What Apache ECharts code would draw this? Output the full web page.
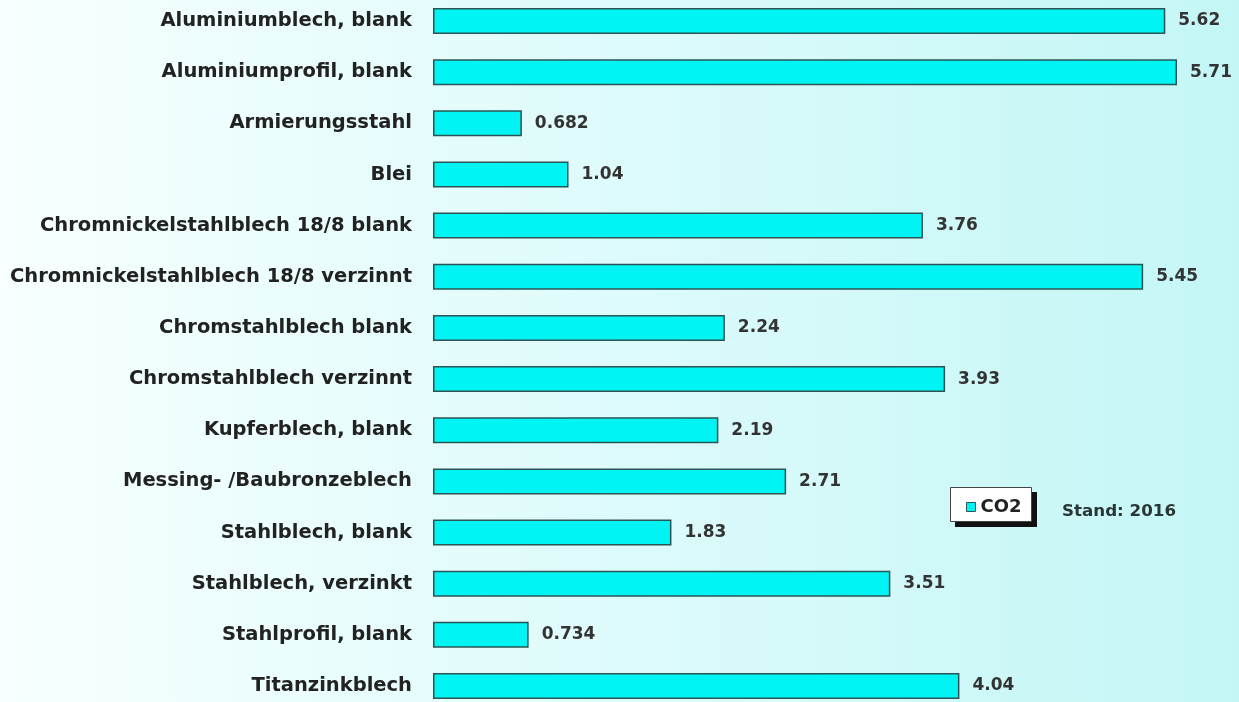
<!DOCTYPE html>
<html><head><meta charset="utf-8">
<script src="https://cdn.jsdelivr.net/npm/echarts@6/dist/echarts.min.js"></script>
<style>html,body{margin:0;padding:0;}#c{width:1239px;height:702px;}</style>
</head><body><div id="c"></div>
<script>
const categories = ["Aluminiumblech, blank","Aluminiumprofil, blank","Armierungsstahl","Blei","Chromnickelstahlblech 18/8 blank","Chromnickelstahlblech 18/8 verzinnt","Chromstahlblech blank","Chromstahlblech verzinnt","Kupferblech, blank","Messing- /Baubronzeblech","Stahlblech, blank","Stahlblech, verzinkt","Stahlprofil, blank","Titanzinkblech"];
const co2 = [5.62,5.71,0.682,1.04,3.76,5.45,2.24,3.93,2.19,2.71,1.83,3.51,0.734,4.04];
const seriesName = "CO2";
const noteText = "Stand: 2016";

const FONT = '"DejaVu Sans", Verdana, sans-serif';
const chart = echarts.init(document.getElementById('c'));
chart.setOption({
  animation:false,
  backgroundColor:{type:'linear',x:0,y:0,x2:1,y2:0,colorStops:[{offset:0,color:'#f7ffff'},{offset:1,color:'#c4f6f6'}]},
  grid:{left:433,top:-4.6,height:716.2,width:781.8,outerBoundsMode:'none',containLabel:false},
  xAxis:{type:'value',min:0,max:6,show:false},
  yAxis:{type:'category',data:categories,inverse:true,
    axisLine:{show:false},axisTick:{show:false},splitLine:{show:false},
    axisLabel:{margin:21,fontFamily:FONT,fontWeight:'bold',fontSize:19.5,color:'#222'}},
  legend:{left:966,top:498,data:[seriesName],itemWidth:9,itemHeight:9,padding:[0,0,0,0],
    icon:'rect',itemStyle:{borderColor:'#2b5555',borderWidth:1},
    textStyle:{fontFamily:FONT,fontWeight:'bold',fontSize:18,color:'#222'}},
  graphic:[
    {type:'rect',z:-1,shape:{x:955,y:492,width:82,height:35},style:{fill:'#111'},silent:true},
    {type:'rect',z:-1,shape:{x:950.5,y:487.5,width:81,height:34},style:{fill:'#fff',stroke:'#444',lineWidth:1},silent:true},
    {type:'text',left:1062,top:503,style:{text:noteText,font:'bold 16.7px "DejaVu Sans", Verdana, sans-serif',fill:'#2a3535'}}
  ],
  series:[{name:seriesName,type:'bar',data:co2,barWidth:26,
    itemStyle:{color:'#00f4f4',borderColor:'#2b5555',borderWidth:1.5},
    label:{show:true,position:'right',distance:13,fontFamily:FONT,fontWeight:'bold',fontSize:17,color:'#333'}}]
});
</script></body></html>
